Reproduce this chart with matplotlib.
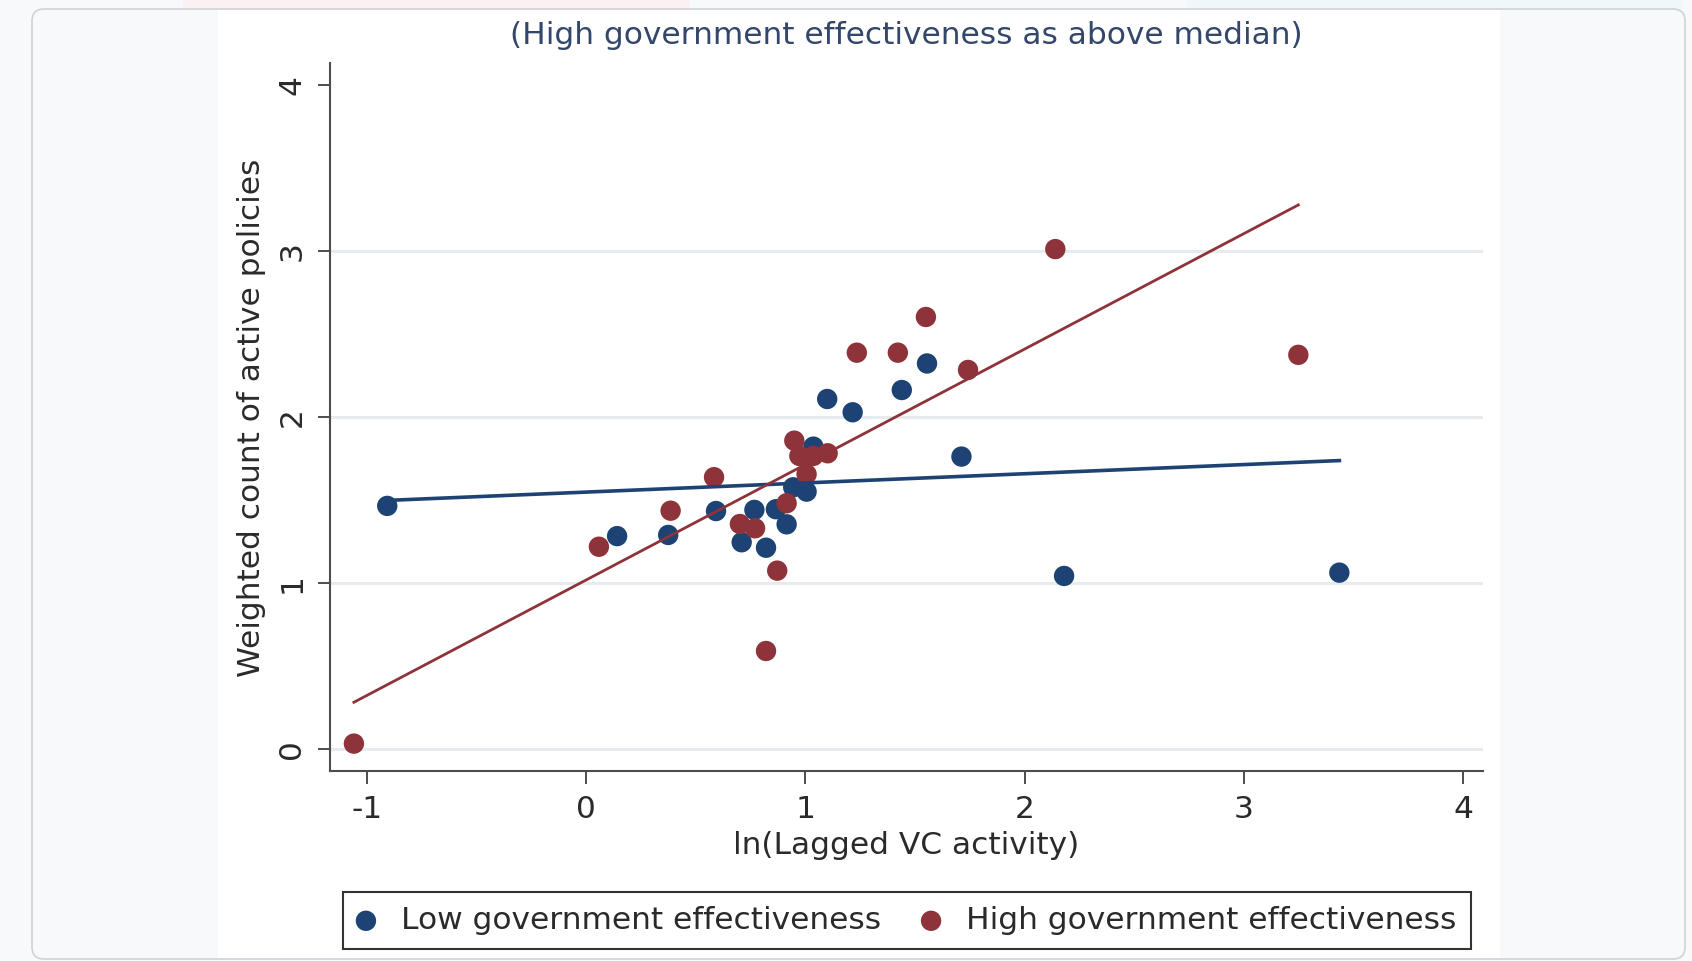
import matplotlib.pyplot as plt
from matplotlib.patches import FancyBboxPatch, Rectangle
from matplotlib.transforms import IdentityTransform

# values
low_x = [-0.906, 0.142, 0.375, 0.593, 0.710, 0.768, 0.821, 0.866, 0.915, 0.945,
         1.006, 1.037, 1.100, 1.216, 1.440, 1.555, 1.712, 2.180, 3.435]
low_y = [1.466, 1.284, 1.291, 1.435, 1.247, 1.442, 1.214, 1.446, 1.355, 1.578,
         1.552, 1.823, 2.110, 2.030, 2.164, 2.324, 1.763, 1.044, 1.064]

high_x = [-1.058, 0.059, 0.386, 0.584, 0.702, 0.771, 0.821, 0.872, 0.915, 0.950,
          0.973, 1.006, 1.037, 1.102, 1.235, 1.422, 1.550, 1.742, 2.140, 3.248]
high_y = [0.034, 1.220, 1.437, 1.639, 1.357, 1.331, 0.592, 1.076, 1.482, 1.859,
          1.767, 1.657, 1.767, 1.783, 2.389, 2.389, 2.604, 2.285, 3.013, 2.376]

# fitted lines (end points)
low_fit_x = [-0.906, 3.435]
low_fit_y = [1.499, 1.739]
high_fit_x = [-1.058, 3.248]
high_fit_y = [0.283, 3.279]

x_ticks = [-1, 0, 1, 2, 3, 4]
y_ticks = [0, 1, 2, 3, 4]
grid_y = [0, 1, 2, 3]

title = '(High government effectiveness as above median)'
x_title = 'ln(Lagged VC activity)'
y_title = 'Weighted count of active policies'
labels = ['Low government effectiveness', 'High government effectiveness']

navy = '#1c4373'
maroon = '#8e3339'
txt = '#2a2a2a'

W, H = 1692, 961
plt.rcParams['font.family'] = ['DejaVu Sans']
fig = plt.figure(figsize=(W / 100, H / 100), dpi=100, facecolor='#f8f9fa')


def fx(p):
    return p / W


def fy(p):
    return 1 - p / H


def box(x0, y0, x1, y1):
    # pixel box, top-left origin -> (xy, w, h) in display pixels
    return (x0, H - y1), x1 - x0, y1 - y0


# page background bits, kept behind the axes
for (x0, y0, x1, y1), c in [((183, 0, 690, 9), '#fcf1f2'), ((1187, 0, 1683, 9), '#f0f7fa')]:
    xy, w, h = box(x0, y0, x1, y1)
    fig.add_artist(Rectangle(xy, w, h, transform=IdentityTransform(), facecolor=c,
                             edgecolor='none', zorder=-10))
xy, w, h = box(32, 9, 1685, 959)
fig.add_artist(FancyBboxPatch(xy, w, h, boxstyle='round,pad=0,rounding_size=12',
                              transform=IdentityTransform(), facecolor='#f8f9fa',
                              edgecolor='#cfd2d6', linewidth=1.2, zorder=-9))
xy, w, h = box(218, 10, 1500, 958)
fig.add_artist(Rectangle(xy, w, h, transform=IdentityTransform(), facecolor='white',
                         edgecolor='none', zorder=-8))

ax = fig.add_axes([fx(330), fy(771), (1483 - 330) / W, (771 - 63) / H])
ax.set_facecolor('white')
ax.set_xlim(-1.167, 4.090)
ax.set_ylim(-0.131, 4.134)

for g in grid_y:
    ax.axhline(g, color='#e5ebee', lw=2.2, zorder=0)

ax.scatter(low_x, low_y, s=215, color=navy, edgecolors='none', zorder=3, label=labels[0])
ax.scatter(high_x, high_y, s=215, color=maroon, edgecolors='none', zorder=3, label=labels[1])
ax.plot(low_fit_x, low_fit_y, color=navy, lw=2.6, zorder=4)
ax.plot(high_fit_x, high_fit_y, color=maroon, lw=2.0, zorder=4)

for s in ['top', 'right']:
    ax.spines[s].set_visible(False)
for s in ['left', 'bottom']:
    ax.spines[s].set_color('#4d4d4d')
    ax.spines[s].set_linewidth(1.5)

ax.set_xticks(x_ticks)
ax.set_yticks(y_ticks)
ax.set_xticklabels([str(v) for v in x_ticks])
ax.set_yticklabels([str(v) for v in y_ticks], rotation=90, va='center')
ax.tick_params(axis='both', direction='out', length=9, width=1.4, color='#4d4d4d',
               labelsize=22.5, labelcolor=txt)
ax.tick_params(axis='x', pad=8.5)
ax.tick_params(axis='y', pad=8)

fig.text(fx(906.5), fy(35), title, ha='center', va='center', fontsize=22.5, color='#33466b')
fig.text(fx(906.5), fy(845), x_title, ha='center', va='center', fontsize=22.5, color=txt)
fig.text(fx(251), fy(418), y_title, ha='center', va='center', rotation=90, fontsize=22.5, color=txt)

leg = fig.legend(loc='center', bbox_to_anchor=(fx(906.5), fy(920.5)), ncol=2,
                 frameon=True, fancybox=False, edgecolor='#333333', facecolor='white',
                 framealpha=1, fontsize=22.5, handlelength=0.6, handletextpad=0.82,
                 columnspacing=1.3, borderpad=0.45, borderaxespad=0, scatterpoints=1)
leg.get_frame().set_linewidth(1.5)
for t in leg.get_texts():
    t.set_color(txt)

fig.savefig('out.png', dpi=100, facecolor=fig.get_facecolor())
